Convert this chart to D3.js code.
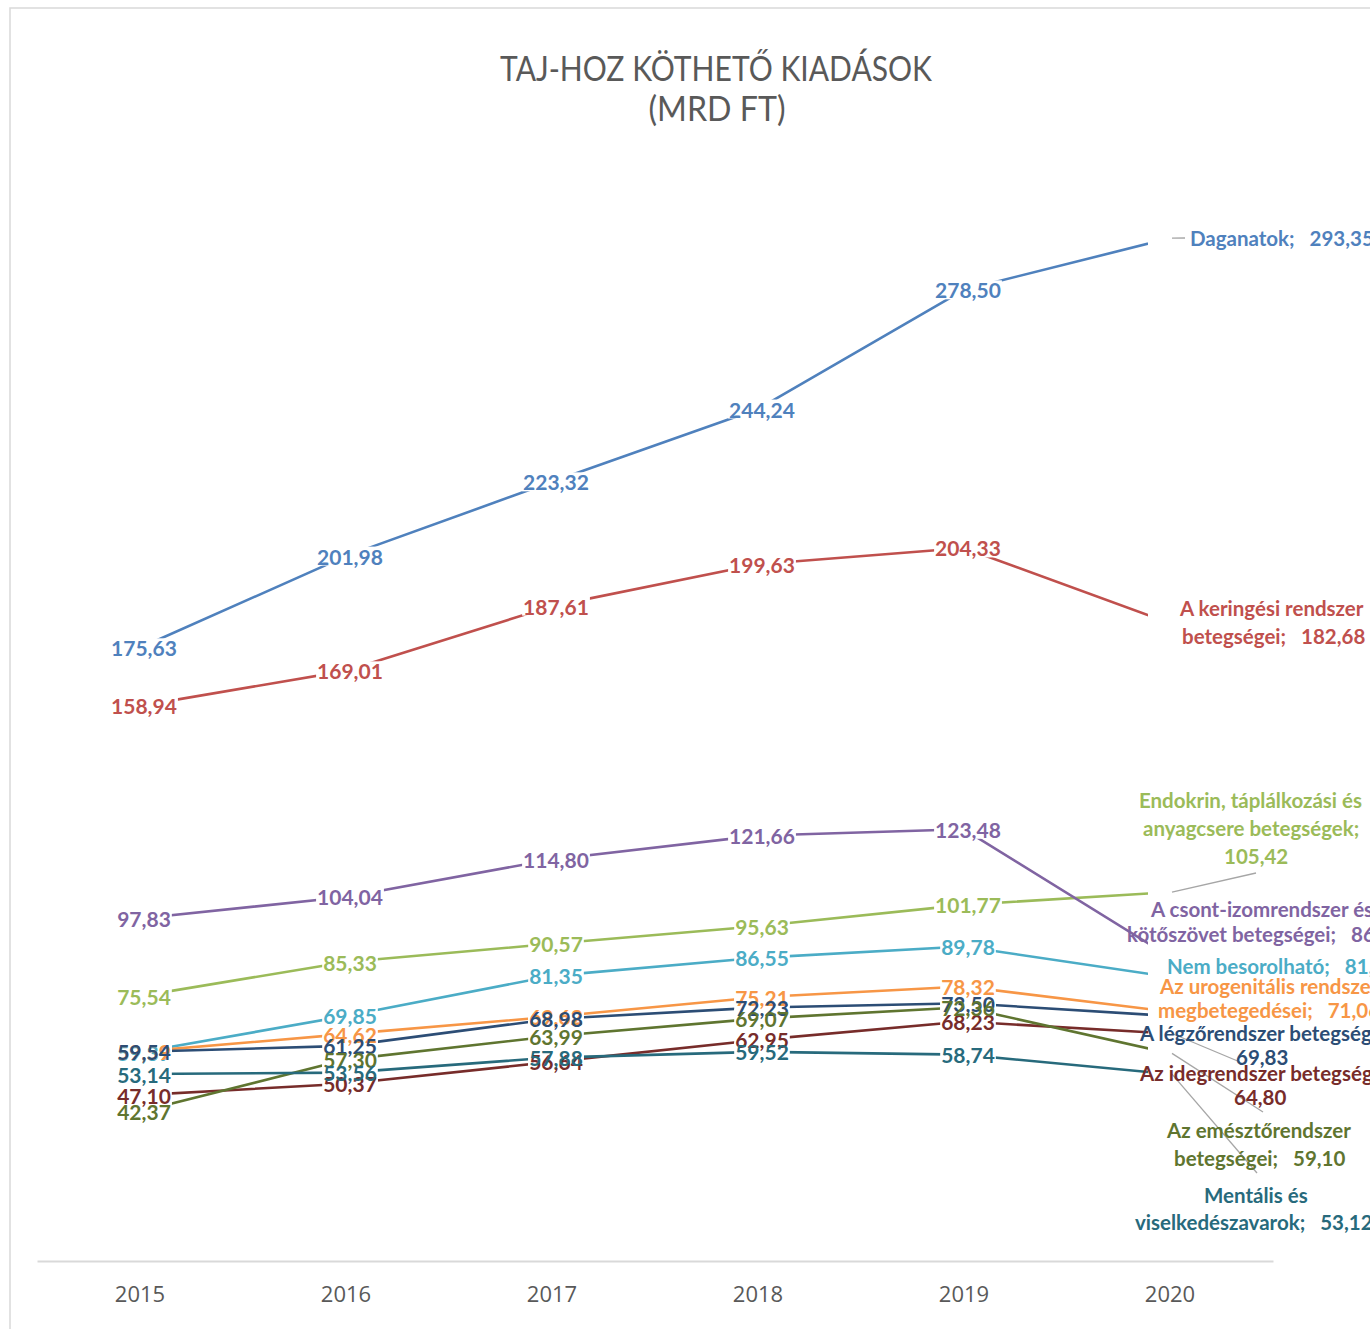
<!DOCTYPE html>
<html><head><meta charset="utf-8">
<script src="https://cdn.jsdelivr.net/npm/d3@7"></script>
<style>body{margin:0;background:#fff;overflow:hidden} svg{display:block}</style>
</head><body><svg id="c" width="1370" height="1329"></svg>
<script>
// ---------- data ----------
const years = ["2015", "2016", "2017", "2018", "2019", "2020"];
const seriesNames = [
  "Daganatok",
  "A keringési rendszer betegségei",
  "Endokrin, táplálkozási és anyagcsere betegségek",
  "A csont-izomrendszer és kötőszövet betegségei",
  "Nem besorolható",
  "Az urogenitális rendszer megbetegedései",
  "A légzőrendszer betegségei",
  "Az idegrendszer betegségei",
  "Az emésztőrendszer betegségei",
  "Mentális és viselkedészavarok"
];
const daganatok   = [175.63, 201.98, 223.32, 244.24, 278.50, 293.35];
const keringesi   = [158.94, 169.01, 187.61, 199.63, 204.33, 182.68];
const endokrin    = [75.54, 85.33, 90.57, 95.63, 101.77, 105.42];
const csontIzom   = [97.83, 104.04, 114.80, 121.66, 123.48, 86.82];
const nemBesorol  = [59.39, 69.85, 81.35, 86.55, 89.78, 81.03];
const urogenit    = [59.59, 64.62, 69.62, 75.21, 78.32, 71.06];
const legzo       = [59.54, 61.25, 68.98, 72.23, 73.50, 69.83];
const ideg        = [47.10, 50.37, 56.64, 62.95, 68.23, 64.80];
const emeszto     = [42.37, 57.30, 63.99, 69.07, 72.36, 59.10];
const mentalis    = [53.14, 53.56, 57.88, 59.52, 58.74, 53.12];
const seriesValues = [daganatok, keringesi, endokrin, csontIzom, nemBesorol, urogenit, legzo, ideg, emeszto, mentalis];
const colors = ["#4F81BD", "#C0504D", "#9BBB59", "#8064A2", "#4BACC6", "#F79646", "#2C4D75", "#772C2A", "#5F7530", "#276A7C"];

// end-of-line (2020) label texts, one array of lines per series
const endLabelLines = [
  ["Daganatok;\u00a0\u00a0\u00a0293,35"],
  ["A keringési rendszer", "betegségei;\u00a0\u00a0\u00a0182,68"],
  ["Endokrin, táplálkozási és", "anyagcsere betegségek;", "105,42"],
  ["A csont-izomrendszer és", "kötőszövet betegségei;\u00a0\u00a0\u00a086,82"],
  ["Nem besorolható;\u00a0\u00a0\u00a081,03"],
  ["Az urogenitális rendszer", "megbetegedései;\u00a0\u00a0\u00a071,06"],
  ["A légzőrendszer betegségei;", "69,83"],
  ["Az idegrendszer betegségei;", "64,80"],
  ["Az emésztőrendszer", "betegségei;\u00a0\u00a0\u00a059,10"],
  ["Mentális és", "viselkedészavarok;\u00a0\u00a0\u00a053,12"]
];

// ---------- layout (positions / styles) ----------
const W = 1370, H = 1329;
const endLabelPos = [ // [x-left, y-center] per line
  [[1190, 238]],
  [[1180, 608], [1182, 636]],
  [[1139, 800], [1143, 828], [1224, 856]],
  [[1151, 909], [1127, 934]],
  [[1167, 966]],
  [[1160, 986], [1158, 1010]],
  [[1140, 1033], [1236, 1057]],
  [[1140, 1073], [1234, 1097]],
  [[1167, 1130], [1174, 1158]],
  [[1204, 1195], [1135, 1222]]
];
const leaderEnds = { 0: [1185, 238], 2: [1256, 873], 7: [1240, 1062], 8: [1263, 1112], 9: [1257, 1173] };

const svg = d3.select("#c");
svg.append("rect").attr("x", 10).attr("y", 8).attr("width", 1500).attr("height", 1500)
  .attr("fill", "#fff").attr("stroke", "#d9d9d9").attr("stroke-width", 1.5);

const x = d3.scaleBand().domain(years).range([37, 1273]).padding(0);
const xc = d => x(d) + x.bandwidth() / 2;
const y = d3.scaleLinear().domain([0, 300]).range([1259, 215]);
const fmt = v => d3.format(".2f")(v).replace(".", ",");

// title
const title = svg.append("g").attr("fill", "#595959").attr("font-family", "Lato, 'Open Sans', sans-serif")
  .attr("text-anchor", "middle");
title.append("text").attr("x", 716).attr("y", 81).attr("font-size", 34)
  .attr("textLength", 432).attr("lengthAdjust", "spacingAndGlyphs").text("TAJ-HOZ KÖTHETŐ KIADÁSOK");
title.append("text").attr("x", 717).attr("y", 121).attr("font-size", 34)
  .attr("textLength", 137).attr("lengthAdjust", "spacingAndGlyphs").text("(MRD FT)");

// axis
const axis = svg.append("g").attr("transform", "translate(0,1261)")
  .call(d3.axisBottom(x).tickSize(0).tickSizeOuter(0).tickPadding(25));
axis.select(".domain").attr("stroke", "#d9d9d9").attr("stroke-width", 2);
axis.selectAll("text").attr("font-family", "'Open Sans', sans-serif").attr("font-size", 22).attr("fill", "#595959");

// lines
svg.append("clipPath").attr("id", "pc").append("rect").attr("x", 0).attr("y", 0).attr("width", 1148).attr("height", H);
const line = d3.line().x((d, i) => xc(years[i])).y(d => y(d));
const lg = svg.append("g").attr("clip-path", "url(#pc)");
seriesValues.forEach((vals, s) => {
  lg.append("path").attr("d", line(vals)).attr("fill", "none")
    .attr("stroke", colors[s]).attr("stroke-width", 2.6).attr("stroke-linejoin", "round");
});

// data labels (2015–2019) with white boxes hiding the line underneath
const bgG = svg.append("g");
const txG = svg.append("g").attr("font-family", "Lato, 'Open Sans', sans-serif").attr("font-weight", 700)
  .attr("font-size", 21).attr("text-anchor", "middle").attr("dominant-baseline", "central");
seriesValues.forEach((vals, s) => {
  vals.slice(0, 5).forEach((v, i) => {
    const t = txG.append("text").attr("x", xc(years[i]) + 4).attr("y", y(v))
      .attr("fill", colors[s]).text(fmt(v));
    const b = t.node().getBBox();
    bgG.append("rect").attr("x", b.x - 1).attr("y", b.y + 3).attr("width", b.width + 2).attr("height", b.height - 6)
      .attr("fill", "#fff");
  });
});

// leader lines
const ldG = svg.append("g").attr("stroke", "#a6a6a6").attr("stroke-width", 1.3);
Object.entries(leaderEnds).forEach(([s, e]) => {
  const v = seriesValues[+s][5];
  ldG.append("line").attr("x1", 1172).attr("y1", y(v)).attr("x2", e[0]).attr("y2", e[1]);
});

// end labels (2020)
const elG = svg.append("g").attr("font-family", "Lato, 'Open Sans', sans-serif").attr("font-weight", 700)
  .attr("font-size", 20.5).attr("dominant-baseline", "central");
endLabelLines.forEach((lines, s) => {
  lines.forEach((txt, k) => {
    const p = endLabelPos[s][k];
    elG.append("text").attr("x", p[0]).attr("y", p[1]).attr("fill", colors[s]).text(txt);
  });
});
</script></body></html>
